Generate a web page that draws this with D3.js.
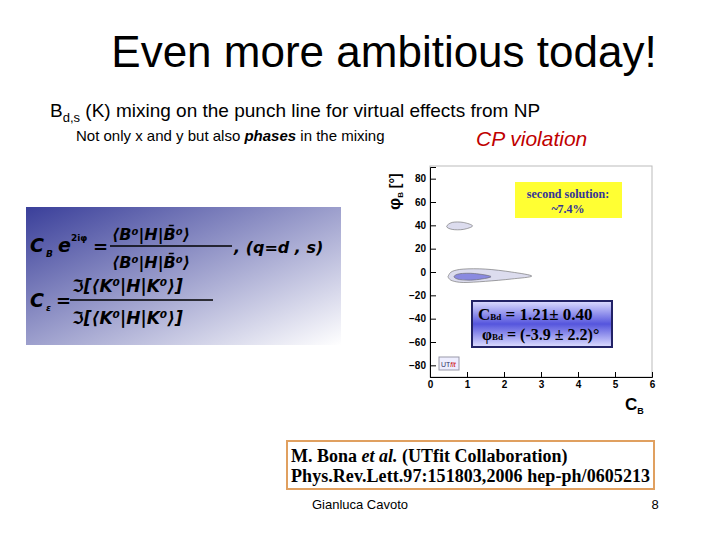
<!DOCTYPE html><html><head><script src="https://cdn.jsdelivr.net/npm/d3@7"></script>
<style>body{margin:0;background:#fff}</style></head><body><svg id="s" width="720" height="540"></svg>
<script>
const xTicks=[0,1,2,3,4,5,6];
const yTicks=[-80,-60,-40,-20,0,20,40,60,80];
// contour outlines [C, phi]
const outerLow=[[0.5,-3],[0.6,0.5],[0.9,2.5],[1.5,2.5],[2.2,0],[2.75,-3.5],[2.2,-6],[1.5,-8],[0.9,-9],[0.6,-7.5],[0.5,-5]];
const innerLow=[[0.65,-4],[0.8,-1.5],[1.2,-1.3],[1.65,-4],[1.2,-6.8],[0.8,-6.5]];
const upper=[[0.45,39],[0.6,42.5],[0.9,42.5],[1.15,39.5],[0.9,36.5],[0.6,36.5]];
const svg=d3.select("#s");
const x=d3.scaleLinear().domain([0,6]).range([430,652]);
const y=d3.scaleLinear().domain([-90,90]).range([377,167]);
const F="Liberation Sans, Arial, sans-serif";
svg.append("text").attr("x",384).attr("y",67).attr("text-anchor","middle").attr("font-family",F).attr("font-size",44).text("Even more ambitious today!");
const t=svg.append("text").attr("x",50).attr("y",117).attr("font-family",F).attr("font-size",19);
t.append("tspan").text("B");t.append("tspan").attr("font-size",13).attr("dy",5).text("d,s");t.append("tspan").attr("dy",-5).text(" (K) mixing on the punch line for virtual effects from NP");
const t2=svg.append("text").attr("x",76).attr("y",141).attr("font-family",F).attr("font-size",15);
t2.append("tspan").text("Not only x and y but also ");t2.append("tspan").attr("font-weight","bold").attr("font-style","italic").text("phases");t2.append("tspan").text(" in the mixing");
svg.append("text").attr("x",476).attr("y",146).attr("font-family",F).attr("font-size",21).attr("font-style","italic").attr("fill","#c00000").text("CP violation");
// formula box
const g=svg.append("defs").append("linearGradient").attr("id","gr").attr("x1",0).attr("y1",0).attr("x2",1).attr("y2",1);
g.append("stop").attr("offset",0).attr("stop-color","#3a3f9a");g.append("stop").attr("offset",1).attr("stop-color","#ffffff");
svg.append("rect").attr("x",26).attr("y",207).attr("width",315).attr("height",138).attr("fill","url(#gr)");
const mf="DejaVu Sans, sans-serif";
function mt(xx,yy,s,txt,it){return svg.append("text").attr("x",xx).attr("y",yy).attr("font-family",mf).attr("font-weight","bold").attr("font-style",it===false?"normal":"italic").attr("font-size",s).text(txt);}
mt(30,252,19,"C");mt(46,257,9,"B");mt(58,252,19,"e");mt(71,241,9,"2iφ",false);mt(93,253,18,"=",false);
mt(112,240,16,"⟨B⁰|H|B̄⁰⟩");
svg.append("line").attr("x1",110).attr("x2",232).attr("y1",246).attr("y2",246).attr("stroke","#000").attr("stroke-width",1.5);
mt(112,268,16,"⟨B⁰|H|B̄⁰⟩");
mt(234,253,16,",  (q=d , s)");
mt(30,307,19,"C");mt(46,311,9,"ε");mt(56,307,18,"=",false);
mt(72,292,17,"ℑ[⟨K⁰|H|K⁰⟩]");
svg.append("line").attr("x1",70).attr("x2",213).attr("y1",300).attr("y2",300).attr("stroke","#000").attr("stroke-width",1.5);
mt(72,324,17,"ℑ[⟨K⁰|H|K⁰⟩]");
// plot
svg.append("rect").attr("x",430).attr("y",166).attr("width",222).attr("height",211).attr("fill","none").attr("stroke","#bbb");
const line=d3.line().x(d=>x(d[0])).y(d=>y(d[1])).curve(d3.curveCardinalClosed);
[[outerLow,"#dcdcee"],[upper,"#dcdcee"],[innerLow,"#8a8ae0"]].forEach(([d,c])=>svg.append("path").attr("d",line(d)).attr("fill",c).attr("stroke","#666").attr("stroke-width",0.6));
const ax=svg.append("g").attr("transform","translate(0,377)").call(d3.axisBottom(x).tickValues(xTicks).tickFormat(d3.format("d")).tickSize(-5).tickPadding(4));
const ay=svg.append("g").attr("transform","translate(430,0)").call(d3.axisLeft(y).tickValues(yTicks).tickFormat(d3.format("d")).tickSize(-6).tickPadding(4));
[ax,ay].forEach(a=>{a.selectAll("text").attr("font-family",F).attr("font-weight","bold").attr("font-size",10);a.select(".domain").attr("stroke","#000");});
svg.append("text").attr("x",625).attr("y",410).attr("font-family",F).attr("font-weight","bold").attr("font-size",17).text("C").append("tspan").attr("font-size",9).attr("dy",4).text("B");
svg.append("text").attr("transform","translate(400,210) rotate(-90)").attr("font-family",F).attr("font-weight","bold").attr("font-size",17).text("φ").append("tspan").attr("font-size",8).attr("dy",3).text("B").append("tspan").attr("dy",-3).attr("font-size",14).text(" [°]");
svg.append("rect").attr("x",515).attr("y",182).attr("width",107).attr("height",36).attr("fill","#ffff33");
svg.append("text").attr("x",568).attr("y",198).attr("text-anchor","middle").attr("font-family","Liberation Serif").attr("font-weight","bold").attr("font-size",12).attr("fill","#333399").text("second solution:");
svg.append("text").attr("x",568).attr("y",213).attr("text-anchor","middle").attr("font-family","Liberation Serif").attr("font-weight","bold").attr("font-size",12).attr("fill","#333399").text("~7.4%");
const g2=svg.select("defs").append("linearGradient").attr("id","bg").attr("x1",0).attr("y1",0).attr("x2",0).attr("y2",1);
g2.append("stop").attr("offset",0).attr("stop-color","#ddddff");g2.append("stop").attr("offset",0.5).attr("stop-color","#5555dd");g2.append("stop").attr("offset",1).attr("stop-color","#ddddff");
svg.append("rect").attr("x",472).attr("y",301).attr("width",140).attr("height",46).attr("fill","url(#bg)").attr("stroke","#222266").attr("stroke-width",2);
svg.append("text").attr("x",478).attr("y",320).attr("font-family","Liberation Serif").attr("font-weight","bold").attr("font-size",17).text("C").append("tspan").attr("font-size",9).text("Bd").append("tspan").attr("font-size",17).text(" = 1.21± 0.40");
svg.append("text").attr("x",482).attr("y",340).attr("font-family","Liberation Serif").attr("font-weight","bold").attr("font-size",16).text("φ").append("tspan").attr("font-size",9).text("Bd").append("tspan").attr("font-size",16).text(" = (-3.9 ± 2.2)°");
svg.append("rect").attr("x",439).attr("y",357).attr("width",20).attr("height",13).attr("fill","#eef").attr("stroke","#99a");
svg.append("text").attr("x",441).attr("y",367).attr("font-size",7).attr("font-family",F).attr("fill","#336").text("UT").append("tspan").attr("fill","#c00").attr("font-style","italic").text("fit");
// citation
svg.append("rect").attr("x",287).attr("y",441).attr("width",367).attr("height",48).attr("fill","#fff").attr("stroke","#e0a060").attr("stroke-width",2);
svg.append("text").attr("x",291).attr("y",462).attr("font-family","Liberation Serif").attr("font-weight","bold").attr("font-size",18).text("M. Bona ").append("tspan").attr("font-style","italic").text("et al.").append("tspan").attr("font-style","normal").text(" (UTfit Collaboration)");
svg.append("text").attr("x",291).attr("y",482).attr("font-family","Liberation Serif").attr("font-weight","bold").attr("font-size",18).attr("textLength",359).text("Phys.Rev.Lett.97:151803,2006 hep-ph/0605213");
svg.append("text").attr("x",360).attr("y",509).attr("text-anchor","middle").attr("font-family",F).attr("font-size",13).text("Gianluca Cavoto");
svg.append("text").attr("x",655).attr("y",509).attr("text-anchor","middle").attr("font-family",F).attr("font-size",13).text("8");
</script></body></html>
